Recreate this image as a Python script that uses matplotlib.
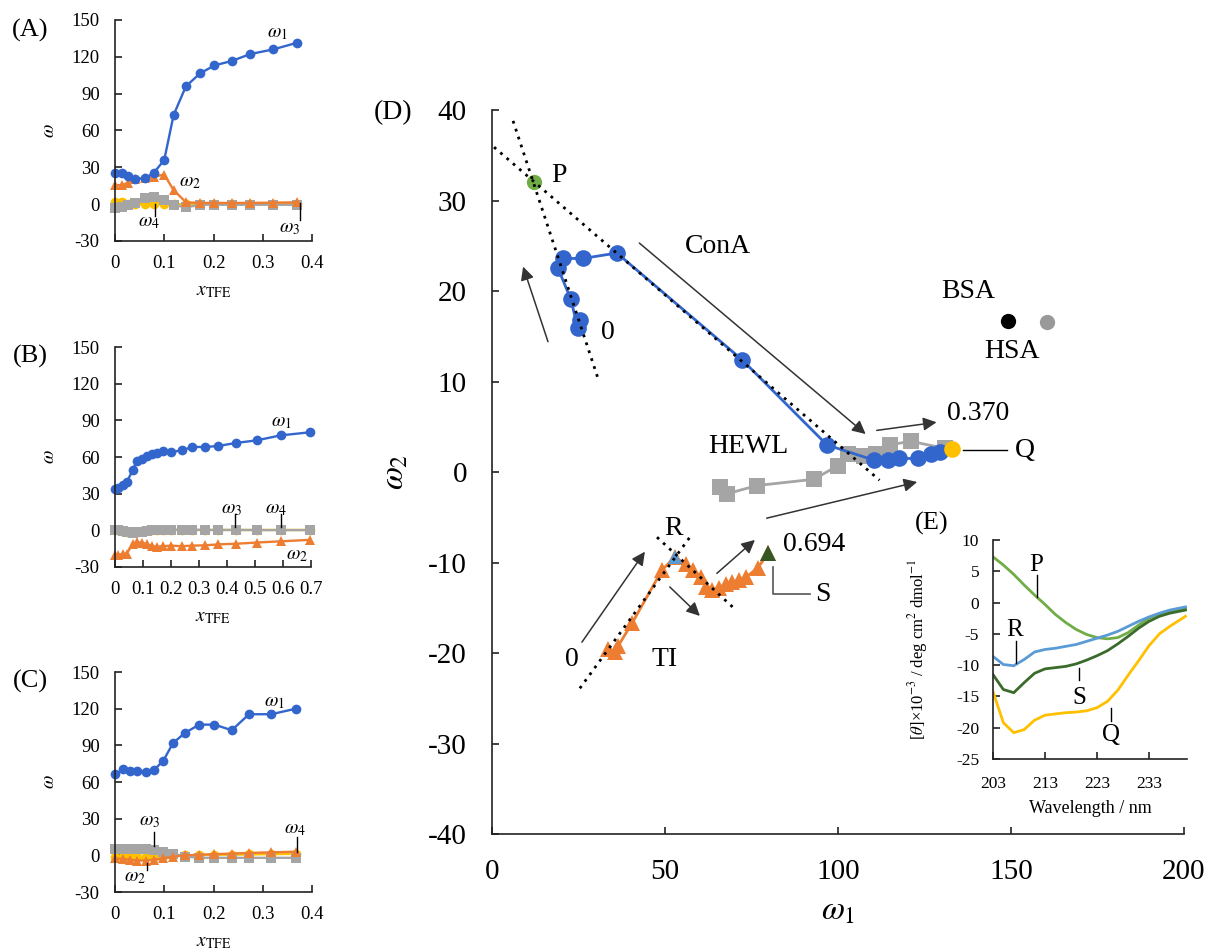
import matplotlib.pyplot as plt
from matplotlib.ticker import FuncFormatter

plt.rcParams['font.family'] = ['Liberation Serif', 'DejaVu Serif']
plt.rcParams['mathtext.fontset'] = 'stix'
plt.rcParams['axes.unicode_minus'] = False

BLUE = '#3366CC'
ORANGE = '#ED7D31'
GRAY = '#A5A5A5'
YELLOW = '#FFC000'

# (A) ConA
a_x = [0, 0.014, 0.027, 0.041, 0.061, 0.079, 0.1, 0.119, 0.144, 0.173, 0.202, 0.237, 0.275, 0.321, 0.37]
a_w1 = [25.6, 25.0, 23.0, 20.5, 21.0, 25.6, 36.0, 72.6, 96.0, 106.6, 113.0, 116.6, 122.3, 126.0, 131.5]
a_w2 = [15.5, 15.5, 17.5, 20.5, 21.5, 22.5, 24.0, 11.5, 1.5, 1.0, 1.0, 1.0, 1.0, 1.2, 1.5]
a_w3 = [1.5, 1.5, 0.5, 0.0, 0.0, 0.5, 0.5, 0.0, 0.0, 0.0, 0.0, 0.0, 0.0, 0.0, 0.0]
a_w4 = [-3.4, -2.6, -1.0, 0.7, 4.8, 5.6, 3.4, -0.7, -2.6, -0.5, -0.5, -0.5, -0.5, -0.5, -0.5]

# (B) TI
b_x = [0, 0.012, 0.027, 0.042, 0.063, 0.077, 0.095, 0.113, 0.131, 0.149, 0.17, 0.202, 0.238,
       0.277, 0.321, 0.369, 0.432, 0.506, 0.592, 0.696]
b_w1 = [34.1, 35.0, 36.8, 39.5, 49.0, 56.5, 58.6, 60.6, 62.2, 63.3, 65.0, 64.0, 65.5,
        68.2, 68.2, 69.0, 71.5, 73.6, 77.7, 80.2]
b_w2 = [-20.5, -19.8, -19.6, -19.0, -11.5, -9.5, -10.3, -11.0, -13.0, -13.5, -13.0, -12.5, -13.0,
        -12.5, -12.3, -11.5, -11.0, -10.0, -9.0, -7.8]
b_w3 = [0.0, 0.0, -0.5, -1.5, -2.0, -1.5, -1.0, -0.5, 0.0, 0.0, 0.0, 0.5, 0.5,
        0.5, 0.3, 0.3, 0.3, 0.2, 0.2, 0.2]
b_w4 = [0.0, 0.0, -0.5, -1.0, -1.5, -1.0, -0.5, 0.0, 0.0, 0.0, 0.0, 0.3, 0.3,
        0.3, 0.3, 0.3, 0.3, 0.3, 0.3, 0.3]

# (C) HEWL
c_x = [0, 0.016, 0.03, 0.044, 0.062, 0.079, 0.098, 0.118, 0.142, 0.171, 0.202, 0.237, 0.272, 0.317, 0.367]
c_w1 = [66.3, 70.3, 69.3, 69.0, 68.5, 69.8, 77.4, 92.0, 100.2, 107.0, 107.0, 102.4, 115.5, 115.5, 120.0]
c_w2 = [-2.5, -3.0, -3.5, -4.2, -4.2, -3.5, -2.5, -1.0, 0.0, 0.5, 1.0, 1.5, 2.0, 2.5, 3.0]
c_w3 = [5.0, 5.0, 5.0, 5.0, 5.0, 4.5, 3.0, 1.5, -1.0, -2.0, -2.0, -2.0, -2.0, -2.0, -2.0]
c_w4 = [-1.0, -1.0, -1.5, -1.5, -1.5, -1.0, -0.5, 0.0, 0.0, 0.3, 0.5, 0.5, 0.8, 1.0, 1.2]

# (D) omega1 vs omega2
cona_w1 = [25.5, 24.8, 22.8, 19.1, 20.5, 26.3, 36.1, 72.3, 96.8, 110.5, 114.5, 117.5, 123.0, 127.0, 129.5]
cona_w2 = [16.8, 15.9, 19.1, 22.5, 23.6, 23.6, 24.2, 12.4, 3.0, 1.3, 1.3, 1.5, 1.5, 2.0, 2.2]
hewl_w1 = [66.0, 68.0, 76.5, 93.0, 100.0, 103.0, 107.5, 111.0, 115.0, 121.0, 131.0]
hewl_w2 = [-1.7, -2.4, -1.5, -0.8, 0.7, 2.0, 1.8, 2.0, 3.0, 3.4, 2.6]
ti_w1 = [33.5, 35.5, 36.5, 40.5, 49.2, 52.9, 56.0, 58.0, 60.5, 62.0, 63.5, 65.5, 67.5, 69.5,
         71.5, 73.5, 76.8, 79.8]
ti_w2 = [-19.5, -19.9, -19.2, -16.7, -10.8, -9.4, -10.2, -10.8, -11.6, -12.7, -13.0, -12.8, -12.4, -12.2,
         -11.9, -11.6, -10.6, -9.0]
p_pt = (12.1, 32.0)
q_pt = (133.0, 2.5)
r_pt = (52.9, -9.4)
s_pt = (79.8, -9.0)
bsa_pt = (149.1, 16.7)
hsa_pt = (160.4, 16.6)
cona_fit1 = ([6.1, 30.6], [38.8, 10.4])
cona_fit2 = ([0.6, 112.0], [35.9, -0.9])
ti_fit1 = ([25.4, 57.2], [-23.9, -7.2])
ti_fit2 = ([47.7, 69.8], [-7.2, -15.0])

# (E) CD spectra
wl = [203, 205, 207, 209, 211, 213, 215, 217, 219, 221, 223, 225, 227, 229, 231, 233, 235, 237, 240]
cd_p = [7.3, 6.0, 4.5, 2.8, 1.2, -0.3, -1.9, -3.2, -4.3, -5.1, -5.6, -5.8, -5.6, -4.8, -3.6, -2.5, -1.8, -1.4, -1.0]
cd_r = [-8.6, -9.9, -10.1, -9.1, -7.9, -7.5, -7.3, -7.0, -6.7, -6.2, -5.7, -5.2, -4.6, -3.8, -3.0, -2.3, -1.7, -1.2, -0.7]
cd_s = [-11.5, -13.9, -14.4, -12.8, -11.3, -10.6, -10.4, -10.2, -9.8, -9.2, -8.5, -7.7, -6.6, -5.4, -4.1, -3.0, -2.2, -1.7, -1.2]
cd_q = [-14.2, -19.2, -20.8, -20.3, -18.8, -18.0, -17.8, -17.6, -17.5, -17.3, -16.8, -15.8, -14.0, -11.6, -9.3, -6.9, -5.0, -3.8, -2.2]

fig = plt.figure(figsize=(12.09, 9.51), dpi=100)


def style_axes(ax, fs, pad_y, pad_x):
    ax.spines['top'].set_visible(False)
    ax.spines['right'].set_visible(False)
    for s in ['left', 'bottom']:
        ax.spines[s].set_linewidth(1.2)
        ax.spines[s].set_color('#222222')
    ax.tick_params(direction='in', length=5, width=1.2, labelsize=fs, color='#222222')
    ax.tick_params(axis='y', pad=pad_y)
    ax.tick_params(axis='x', pad=pad_x)


def small_panel(rect, xs, w1, w2, w3, w4, xmax, xticks):
    ax = fig.add_axes(rect)
    kw = dict(lw=1.7, ms=7, mew=0, clip_on=False)
    ax.plot(xs, w3, '-o', color=YELLOW, **kw)
    ax.plot(xs, w4, '-s', color=GRAY, **kw)
    ax.plot(xs, w2, '-^', color=ORANGE, **kw)
    ax.plot(xs, w1, '-o', color=BLUE, **kw)
    ax.set_xlim(0, xmax)
    ax.set_ylim(-30, 150)
    ax.set_yticks(range(-30, 151, 30))
    ax.set_xticks(xticks)
    ax.xaxis.set_major_formatter(FuncFormatter(lambda v, p: '%g' % round(v, 2)))
    style_axes(ax, 13.5, 11, 10)
    ax.set_ylabel(r'$\omega$', fontsize=14)
    ax.yaxis.set_label_coords(-0.29, 0.5)
    ax.set_xlabel(r'$x_{\rm TFE}$', fontsize=14, va='top')
    ax.xaxis.set_label_coords(0.5, -0.19)
    return ax


def om(ax, x, y, txt):
    ax.text(x, y, txt, fontsize=14, ha='center', va='center')


def tick(ax, x, y0, y1):
    ax.plot([x, x], [y0, y1], color='black', lw=1, clip_on=False)


# (A)
ax = small_panel([0.0951, 0.7466, 0.163, 0.2324], a_x, a_w1, a_w2, a_w3, a_w4, 0.4, [0, 0.1, 0.2, 0.3, 0.4])
om(ax, 0.329, 139, r'$\omega_1$')
om(ax, 0.152, 18, r'$\omega_2$')
om(ax, 0.068, -15, r'$\omega_4$')
tick(ax, 0.082, 0, -10)
om(ax, 0.355, -20, r'$\omega_3$')
tick(ax, 0.375, 1, -13)

# (B)
ax = small_panel([0.0951, 0.4038, 0.162, 0.2313], b_x, b_w1, b_w2, b_w4, b_w3, 0.7,
                 [0, 0.1, 0.2, 0.3, 0.4, 0.5, 0.6, 0.7])
om(ax, 0.595, 88, r'$\omega_1$')
om(ax, 0.417, 17, r'$\omega_3$')
tick(ax, 0.43, 13, 3)
om(ax, 0.575, 17, r'$\omega_4$')
tick(ax, 0.593, 13, 3)
om(ax, 0.65, -21, r'$\omega_2$')

# (C)
ax = small_panel([0.0951, 0.062, 0.163, 0.2313], c_x, c_w1, c_w2, c_w4, c_w3, 0.4, [0, 0.1, 0.2, 0.3, 0.4])
om(ax, 0.324, 125, r'$\omega_1$')
om(ax, 0.07, 28, r'$\omega_3$')
tick(ax, 0.079, 19, 8)
om(ax, 0.04, -18, r'$\omega_2$')
tick(ax, 0.065, -6, -12)
om(ax, 0.366, 21, r'$\omega_4$')
tick(ax, 0.37, 15, 2.5)

fig.text(0.0248, 0.968, '(A)', fontsize=19, ha='center', va='center')
fig.text(0.0248, 0.625, '(B)', fontsize=19, ha='center', va='center')
fig.text(0.0248, 0.283, '(C)', fontsize=19, ha='center', va='center')

# (D)
axd = fig.add_axes([0.4069, 0.1230, 0.5724, 0.7613])
axd.set_xlim(0, 200)
axd.set_ylim(-40, 40)
axd.set_xticks([0, 50, 100, 150, 200])
axd.set_yticks(range(-40, 41, 10))
style_axes(axd, 21, 18, 18)
axd.set_xlabel(r'$\omega_1$', fontsize=24, va='top')
axd.xaxis.set_label_coords(0.5, -0.085)
axd.set_ylabel(r'$\omega_2$', fontsize=24)
axd.yaxis.set_label_coords(-0.118, 0.5)

axd.plot(hewl_w1, hewl_w2, '-s', color=GRAY, lw=2, ms=12, mew=0)
axd.plot(cona_w1 + [q_pt[0]], cona_w2 + [q_pt[1]], '-', color=BLUE, lw=2)
axd.plot(cona_w1, cona_w2, 'o', color=BLUE, ms=12, mew=0)
axd.plot(ti_w1, ti_w2, '-^', color=ORANGE, lw=2, ms=11, mew=0)
axd.plot(*p_pt, 'o', color='#70AD47', ms=11, mew=0)
axd.plot(*q_pt, 'o', color=YELLOW, ms=12, mew=0)
axd.plot(*r_pt, '^', color='#5B9BD5', ms=10, mew=0)
axd.plot(*s_pt, '^', color='#375623', ms=12, mew=0, zorder=4)
axd.plot(*bsa_pt, 'o', color='black', ms=11, mew=0)
axd.plot(*hsa_pt, 'o', color='#999999', ms=11, mew=0)

for fx, fy in [cona_fit1, cona_fit2, ti_fit1, ti_fit2]:
    axd.plot(fx, fy, color='black', lw=2, linestyle=(0, (1, 2)), zorder=5)

arrows = [((16.2, 14.4), (9.0, 22.7)),
          ((42.6, 25.3), (108.0, 4.2)),
          ((111.2, 4.6), (128.5, 5.5)),
          ((79.4, -5.1), (122.9, -1.1)),
          ((26.0, -18.8), (44.2, -8.8)),
          ((51.4, -12.7), (60.1, -15.9)),
          ((65.0, -11.2), (76.0, -7.5))]
for st, en in arrows:
    axd.annotate('', xy=en, xytext=st,
                 arrowprops=dict(arrowstyle='-|>', color='#333333', lw=1.1,
                                 mutation_scale=20, shrinkA=0, shrinkB=0))

dfs = 20
for x, y, t in [(19.3, 32.8, 'P'), (33.5, 15.4, '0'), (65.3, 24.9, 'ConA'),
                (137.6, 19.9, 'BSA'), (150.3, 13.3, 'HSA'), (140.5, 6.5, '0.370'),
                (154.0, 2.4, 'Q'), (74.1, 2.8, 'HEWL'), (52.4, -6.2, 'R'),
                (93.0, -8.0, '0.694'), (95.5, -13.5, 'S'), (23.0, -20.7, '0'),
                (50.0, -20.7, 'TI')]:
    axd.text(x, y, t, fontsize=dfs, ha='center', va='center')
axd.plot([136.1, 148.8], [2.4, 2.4], color='black', lw=1)
axd.plot([81.3, 81.3, 91.9], [-10.5, -13.5, -13.5], color='#555555', lw=1.2)

fig.text(0.325, 0.882, '(D)', fontsize=20, ha='center', va='center')

# (E)
axe = fig.add_axes([0.8213, 0.2019, 0.1605, 0.2303])
axe.plot(wl, cd_p, color='#70AD47', lw=2)
axe.plot(wl, cd_r, color='#5B9BD5', lw=2)
axe.plot(wl, cd_s, color='#3A6B2A', lw=2)
axe.plot(wl, cd_q, color=YELLOW, lw=2)
axe.set_xlim(203, 240.3)
axe.set_ylim(-25, 10)
axe.set_xticks([203, 213, 223, 233])
axe.set_yticks(range(-25, 11, 5))
style_axes(axe, 12.5, 10, 12)
axe.patch.set_alpha(0)
axe.set_xlabel('Wavelength / nm', fontsize=13, va='top')
axe.xaxis.set_label_coords(0.5, -0.185)
axe.set_ylabel(r'[$\theta$]×10$^{-3}$ / deg cm$^{2}$ dmol$^{-1}$', fontsize=12)
axe.yaxis.set_label_coords(-0.325, 0.5)
for x, y, t in [(211.4, 6.0, 'P'), (207.2, -4.4, 'R'), (219.6, -15.3, 'S'), (225.6, -21.2, 'Q')]:
    axe.text(x, y, t, fontsize=18, ha='center', va='center')
for x, y0, y1 in [(211.4, 4.4, 0.9), (207.4, -6.2, -9.7), (219.6, -10.5, -12.4), (225.6, -16.9, -19.0)]:
    axe.plot([x, x], [y0, y1], color='black', lw=1)
fig.text(0.771, 0.45, '(E)', fontsize=19, ha='center', va='center')

fig.savefig('out.png', dpi=100)
